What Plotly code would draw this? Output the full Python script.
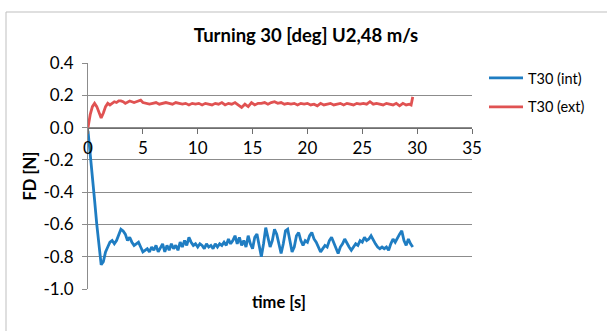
import plotly.graph_objects as go

# ---- data ----
t_int = [0.0, 0.2, 0.4, 0.6, 0.8, 1.0, 1.2, 1.4, 1.6, 1.8, 2.0, 2.2, 2.4, 2.6, 2.8, 3.0,
         3.2, 3.4, 3.6, 3.8, 4.0, 4.2, 4.4, 4.6, 4.8, 5.0, 5.2, 5.4, 5.6, 5.8, 6.0, 6.2,
         6.4, 6.6, 6.8, 7.0, 7.2, 7.4, 7.6, 7.8, 8.0, 8.2, 8.4, 8.6, 8.8, 9.0, 9.2, 9.4,
         9.6, 9.8, 10.0, 10.2, 10.4, 10.6, 10.8, 11.0, 11.2, 11.4, 11.6, 11.8, 12.0, 12.2,
         12.4, 12.6, 12.8, 13.0, 13.2, 13.4, 13.6, 13.8, 14.0, 14.2, 14.4, 14.6, 14.8, 15.0,
         15.2, 15.4, 15.6, 15.8, 16.0, 16.2, 16.4, 16.6, 16.8, 17.0, 17.2, 17.4, 17.6, 17.8,
         18.0, 18.2, 18.4, 18.6, 18.8, 19.0, 19.2, 19.4, 19.6, 19.8, 20.0, 20.2, 20.4, 20.6,
         20.8, 21.0, 21.2, 21.4, 21.6, 21.8, 22.0, 22.2, 22.4, 22.6, 22.8, 23.0, 23.2, 23.4,
         23.6, 23.8, 24.0, 24.2, 24.4, 24.6, 24.8, 25.0, 25.2, 25.4, 25.6, 25.8, 26.0, 26.2,
         26.4, 26.6, 26.8, 27.0, 27.2, 27.4, 27.6, 27.8, 28.0, 28.2, 28.4, 28.6, 28.8, 29.0,
         29.2, 29.4, 29.6]
fd_int = [-0.02, -0.15, -0.30, -0.45, -0.60, -0.75, -0.85, -0.83, -0.77, -0.74, -0.71, -0.70,
          -0.72, -0.70, -0.66, -0.63, -0.64, -0.66, -0.70, -0.68, -0.71, -0.73, -0.72, -0.71,
          -0.74, -0.77, -0.76, -0.75, -0.77, -0.74, -0.76, -0.73, -0.77, -0.74, -0.72, -0.77,
          -0.73, -0.76, -0.72, -0.75, -0.73, -0.76, -0.71, -0.74, -0.70, -0.73, -0.68, -0.71,
          -0.73, -0.72, -0.74, -0.72, -0.73, -0.75, -0.72, -0.74, -0.73, -0.75, -0.72, -0.74,
          -0.72, -0.73, -0.71, -0.73, -0.69, -0.72, -0.70, -0.67, -0.72, -0.68, -0.73, -0.70,
          -0.74, -0.67, -0.72, -0.75, -0.68, -0.66, -0.72, -0.80, -0.72, -0.62, -0.68, -0.74,
          -0.70, -0.63, -0.66, -0.72, -0.78, -0.72, -0.64, -0.63, -0.70, -0.77, -0.74, -0.67,
          -0.65, -0.70, -0.73, -0.70, -0.71, -0.67, -0.65, -0.69, -0.71, -0.74, -0.77, -0.75,
          -0.73, -0.74, -0.70, -0.68, -0.71, -0.75, -0.78, -0.74, -0.72, -0.69, -0.72, -0.74,
          -0.76, -0.74, -0.72, -0.73, -0.70, -0.71, -0.68, -0.70, -0.69, -0.67, -0.70, -0.72,
          -0.74, -0.75, -0.74, -0.75, -0.74, -0.76, -0.72, -0.69, -0.71, -0.68, -0.66, -0.64,
          -0.70, -0.73, -0.69, -0.72, -0.74]

t_ext = [0.0, 0.2, 0.4, 0.6, 0.8, 1.0, 1.2, 1.4, 1.6, 1.8, 2.0, 2.2, 2.4, 2.6, 2.8, 3.0,
         3.2, 3.4, 3.6, 3.8, 4.0, 4.2, 4.4, 4.6, 4.8, 5.0, 5.3, 5.6, 5.9, 6.2, 6.5, 6.8,
         7.1, 7.4, 7.7, 8.0, 8.3, 8.6, 8.9, 9.2, 9.5, 9.8, 10.1, 10.4, 10.7, 11.0, 11.3,
         11.6, 11.9, 12.2, 12.5, 12.8, 13.1, 13.4, 13.7, 14.0, 14.3, 14.6, 14.9, 15.2,
         15.5, 15.8, 16.1, 16.4, 16.7, 17.0, 17.3, 17.6, 17.9, 18.2, 18.5, 18.8, 19.1,
         19.4, 19.7, 20.0, 20.3, 20.6, 20.9, 21.2, 21.5, 21.8, 22.1, 22.4, 22.7, 23.0,
         23.3, 23.6, 23.9, 24.2, 24.5, 24.8, 25.1, 25.4, 25.7, 26.0, 26.3, 26.6, 26.9,
         27.2, 27.5, 27.8, 28.1, 28.4, 28.7, 29.0, 29.3, 29.45, 29.6]
fd_ext = [0.0, 0.08, 0.13, 0.15, 0.13, 0.09, 0.06, 0.09, 0.13, 0.15, 0.14, 0.15, 0.16, 0.155,
          0.165, 0.165, 0.16, 0.15, 0.16, 0.165, 0.16, 0.155, 0.16, 0.165, 0.17, 0.155,
          0.15, 0.145, 0.15, 0.155, 0.145, 0.15, 0.155, 0.15, 0.145, 0.155, 0.15, 0.145,
          0.15, 0.14, 0.15, 0.145, 0.15, 0.14, 0.15, 0.145, 0.14, 0.15, 0.145, 0.155, 0.14,
          0.15, 0.145, 0.155, 0.14, 0.125, 0.145, 0.13, 0.155, 0.14, 0.15, 0.15, 0.155,
          0.145, 0.155, 0.16, 0.15, 0.155, 0.145, 0.15, 0.145, 0.15, 0.14, 0.15, 0.145,
          0.15, 0.14, 0.145, 0.135, 0.15, 0.14, 0.145, 0.15, 0.14, 0.145, 0.15, 0.14, 0.15,
          0.145, 0.14, 0.15, 0.145, 0.15, 0.145, 0.16, 0.145, 0.15, 0.145, 0.14, 0.15,
          0.145, 0.14, 0.15, 0.135, 0.15, 0.14, 0.145, 0.14, 0.19]

series_names = ["T30 (int)", "T30 (ext)"]
title_text = "Turning 30 [deg] U2,48 m/s"
x_title = "time [s]"
y_title = "FD [N]"
x_ticks = [0, 5, 10, 15, 20, 25, 30, 35]
y_ticks = [0.4, 0.2, 0.0, -0.2, -0.4, -0.6, -0.8, -1.0]

FONT = "Lato, 'Open Sans', sans-serif"
BLUE = "#1f7dc2"
RED = "#e05252"
GRID = "#8c8c8c"

fig = go.Figure()
fig.add_trace(go.Scatter(x=t_int, y=fd_int, mode="lines", name=series_names[0],
                         legendgroup="a", line=dict(color=BLUE, width=2.8)))
fig.add_trace(go.Scatter(x=t_ext, y=fd_ext, mode="lines", name=series_names[1],
                         legendgroup="b", line=dict(color=RED, width=2.8)))

W, H = 607, 331
L, R, T, B = 88, 135, 63, 42
pw, ph = W - L - R, H - T - B

fig.update_layout(
    width=W, height=H,
    margin=dict(l=L, r=R, t=T, b=B),
    paper_bgcolor="white", plot_bgcolor="white",
    font=dict(family=FONT, size=14, color="#000000"),
    title=dict(text="<b>" + title_text + "</b>", x=306 / W, xanchor="center",
               y=1 - 36 / H, yanchor="middle", font=dict(size=18.5, family=FONT)),
    showlegend=True,
    legend=dict(x=(484 - L) / pw, y=(H - B - 62) / ph, xanchor="left", yanchor="top",
                traceorder="grouped", tracegroupgap=7, bgcolor="rgba(0,0,0,0)",
                font=dict(size=14.5, family=FONT), itemwidth=34),
    xaxis=dict(range=[0, 35], tickvals=x_ticks, ticktext=[str(v) for v in x_ticks],
               showgrid=False, zeroline=False, showline=True, linecolor="#6e6e6e",
               linewidth=1, ticks="outside", ticklen=5, tickcolor="#6e6e6e",
               anchor="free", position=1 / 1.4, tickfont=dict(size=17)),
    yaxis=dict(range=[-1.0, 0.4], tickvals=y_ticks,
               ticktext=["%.1f" % v for v in y_ticks],
               showgrid=True, gridcolor=GRID, gridwidth=1, zeroline=False,
               showline=True, linecolor=GRID, linewidth=1, ticks="outside", ticklen=5,
               tickcolor=GRID, tickfont=dict(size=17), ticklabelstandoff=5,
               title=dict(text="<b>" + y_title + "</b>", font=dict(size=16.5), standoff=2)),
    annotations=[dict(text="<b>" + x_title + "</b>", xref="paper", yref="paper",
                      x=(279 - L) / pw, y=-(302 - (H - B)) / ph, xanchor="center",
                      yanchor="middle", showarrow=False, font=dict(size=16.5, family=FONT))],
    shapes=[dict(type="rect", xref="paper", yref="paper",
                 x0=(6 - L) / pw, x1=(W + 20 - L) / pw,
                 y0=-(H + 20 - (H - B)) / ph, y1=(H - B - 12) / ph,
                 line=dict(color="#bfbfbf", width=1), fillcolor="rgba(0,0,0,0)",
                 layer="below")],
)

fig.write_html("out.html")
